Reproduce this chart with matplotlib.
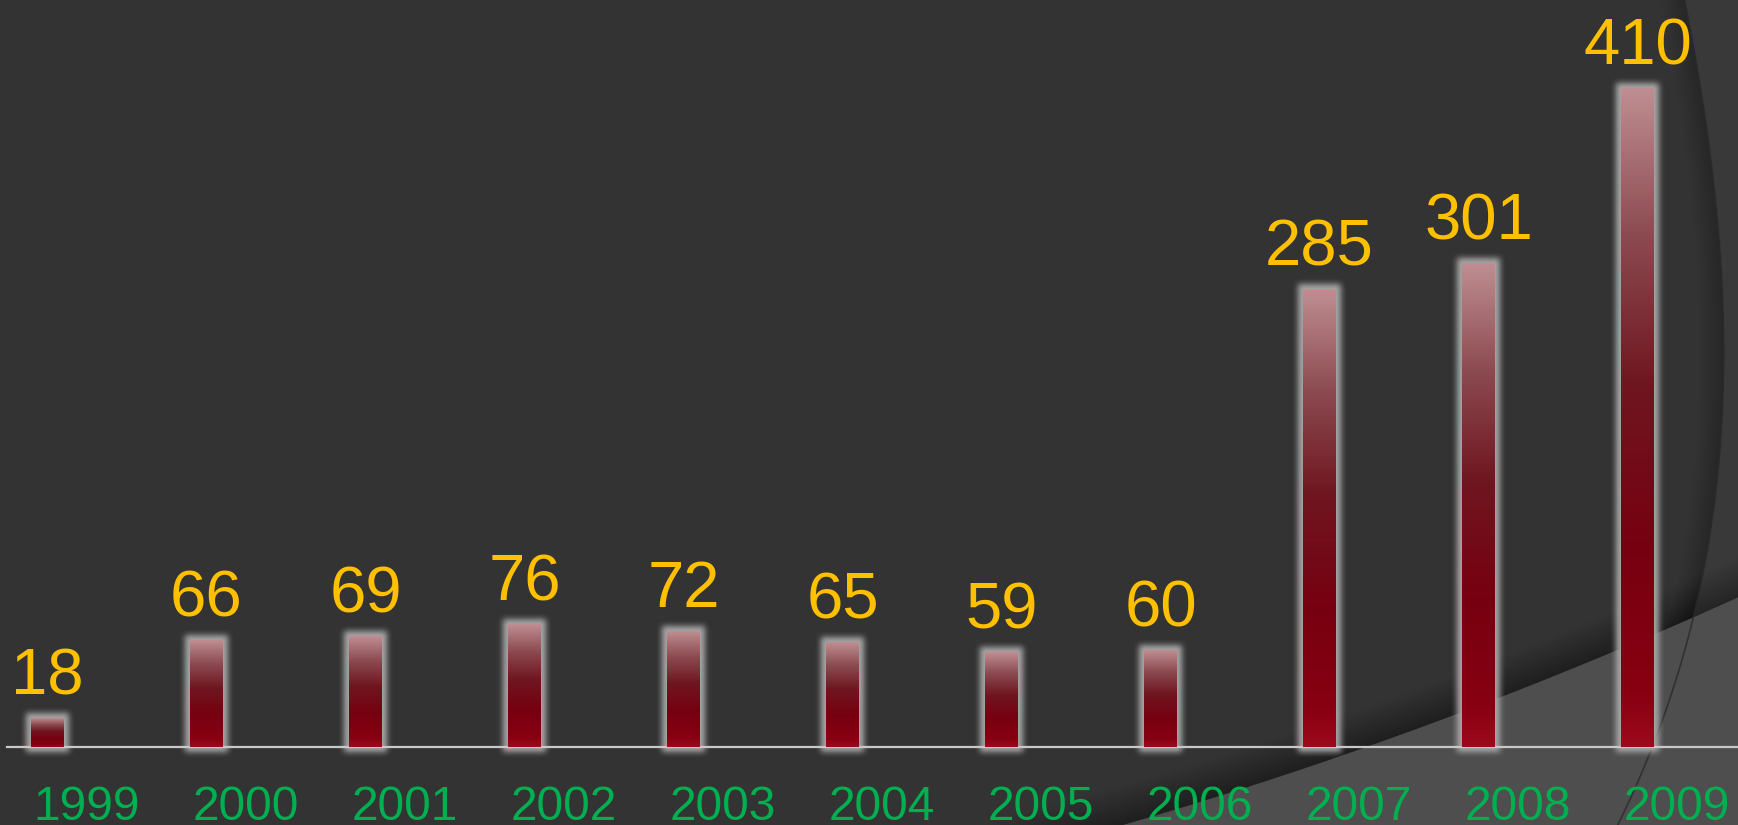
import numpy as np
import matplotlib

matplotlib.use("Agg")
import matplotlib.pyplot as plt
from matplotlib.colors import LinearSegmentedColormap

# ── data ──
years = ["1999", "2000", "2001", "2002", "2003", "2004",
         "2005", "2006", "2007", "2008", "2009"]
values = [18, 66, 69, 76, 72, 65, 59, 60, 285, 301, 410]

# ── layout (pixels) ──
W, H, DPI = 1738, 825, 100
X0_PX = 47.5       # centre of first bar
STEP_PX = 159.0    # distance between bars
BASE_PX = 78.0     # baseline height from bottom
YSCALE = 1.607     # pixels per unit
BAR_PX = 33.0

BG = "#333333"
VALUE_COLOR = "#FFC000"
YEAR_COLOR = "#00B050"
FONT = ["Liberation Sans", "DejaVu Sans"]

bar_cmap = LinearSegmentedColormap.from_list(
    "bar", [(0.0, "#9c0a1c"), (0.08, "#880012"), (0.3, "#770010"),
            (0.55, "#6f1620"), (0.78, "#8c4b51"), (1.0, "#bf8e92")])


def box_blur(a, k, axis):
    kern = np.ones(k) / k
    return np.apply_along_axis(lambda r: np.convolve(r, kern, mode="same"), axis, a)


fig = plt.figure(figsize=(W / DPI, H / DPI), dpi=DPI, facecolor=BG)

# ── background decoration (pixel coords, y down) ──
bg = fig.add_axes([0, 0, 1, 1])
bg.set_xlim(0, W)
bg.set_ylim(H, 0)
bg.axis("off")

# big arc on the right
ya = [0, 200, 300, 400, 600, 750, 825]
xa = [1685, 1715, 1722, 1723, 1701, 1645, 1621]
yy = np.linspace(0, H, 300)
xx = np.polyval(np.polyfit(ya, xa, 3), yy)
bg.fill_betweenx(yy, xx, W, color="white", alpha=0.03, lw=0)
for k in range(2, 26, 2):
    bg.fill_betweenx(yy, xx - k, xx, color="black", alpha=0.018, lw=0)

# lighter swoosh at bottom right
sx = [1120, 1367, 1540, 1738]
sy = [825, 747, 680, 597]
xs = np.linspace(1000, W, 300)
ys = np.polyval(np.polyfit(sx, sy, 2), xs)
for k in range(2, 42, 2):
    bg.fill_between(xs, ys - k, ys, color="black", alpha=0.013, lw=0)
bg.fill_between(xs, ys, H, color="#4e4e4e", lw=0)
bg.plot(xx, yy, color="#2a2a2a", lw=1.2, alpha=0.8)

# ── chart axes ──
ax = fig.add_axes([0, 0, 1, 1])
ax.patch.set_alpha(0)
ax.axis("off")

x = np.arange(len(years))
bar_w = BAR_PX / STEP_PX
bars = ax.bar(x, values, width=bar_w, color="none", edgecolor="none", zorder=3)

pad = 16
for rect in bars:
    x0, w, h = rect.get_x(), rect.get_width(), rect.get_height()
    h_px = int(round(h * YSCALE))
    # soft grey glow round the bar
    mask = np.zeros((h_px + 2 * pad, int(BAR_PX) + 2 * pad))
    mask[pad - 5:pad + h_px + 5, pad - 5:pad + int(BAR_PX) + 5] = 1.0
    for _ in range(2):
        mask = box_blur(mask, 7, 0)
        mask = box_blur(mask, 7, 1)
    rgba = np.zeros(mask.shape + (4,))
    rgba[..., :3] = 0.66
    rgba[..., 3] = np.clip(mask * 1.0, 0, 1)
    ax.imshow(rgba, origin="lower", aspect="auto", zorder=2, interpolation="bilinear",
              extent=[x0 - pad / STEP_PX, x0 + w + pad / STEP_PX,
                      -pad / YSCALE, h + pad / YSCALE])
    # vertical gradient fill
    grad = np.linspace(0, 1, 256).reshape(-1, 1)
    ax.imshow(grad, cmap=bar_cmap, origin="lower", aspect="auto", zorder=4,
              extent=[x0, x0 + w, 0, h])

ax.axhline(0, xmin=7 / W, xmax=1, color="#c8c8c8", lw=1.6, zorder=3.5)

for xi, v in zip(x, values):
    ax.annotate(str(v), xy=(xi, v), xytext=(0, 24 * 72 / DPI), textcoords="offset points",
                ha="center", va="baseline", fontsize=47, color=VALUE_COLOR,
                family=FONT, zorder=6)

for xi, yr in zip(x, years):
    ax.annotate(yr, xy=(xi, 0), xytext=(39 * 72 / DPI, -73 * 72 / DPI),
                textcoords="offset points", ha="center", va="baseline",
                fontsize=34.5, color=YEAR_COLOR, family=FONT, zorder=6)

ax.set_xlim(-X0_PX / STEP_PX, (W - X0_PX) / STEP_PX)
ax.set_ylim(-BASE_PX / YSCALE, (H - BASE_PX) / YSCALE)

fig.savefig("out.png", dpi=DPI, facecolor=BG)
